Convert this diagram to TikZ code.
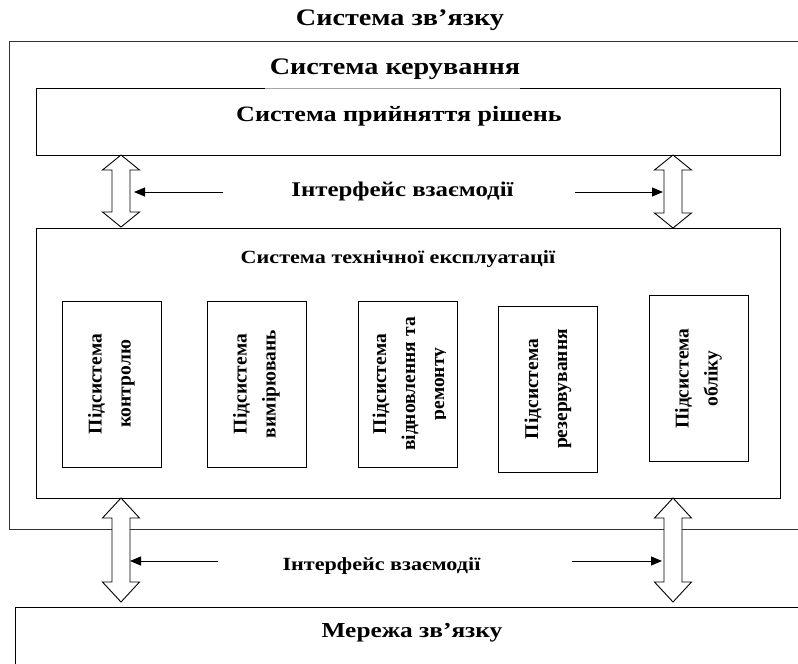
\documentclass[tikz,border=0pt]{standalone}
\usepackage{fontspec}
\setmainfont{Liberation Serif}
\newfontfamily\widefont{Liberation Serif}[FakeStretch=1.19]
\usetikzlibrary{arrows.meta}
\newcommand\DblArr[5]{%
  \draw[dblarrow] (#2,#3) -- (#2+18.5,#3+#5) -- (#2+9,#3+#5) -- (#2+9,#4-#5)
    -- (#2+18.5,#4-#5) -- (#2,#4) -- (#2-18.5,#4-#5) -- (#2-9,#4-#5)
    -- (#2-9,#3+#5) -- (#2-18.5,#3+#5) -- cycle;
  \coordinate (#1-l) at (#2-9,{(#3+#4)/2});
  \coordinate (#1-r) at (#2+9,{(#3+#4)/2});}
\begin{document}
\begin{tikzpicture}[x=1pt,y=-1pt,
  frame/.style={draw=black, line width=0.9pt, inner sep=0pt},
  subbox/.style={frame, minimum width=99pt, minimum height=166pt},
  lbl/.style={font=\widefont\bfseries\fontsize{#1}{#1}\selectfont, inner sep=0pt, anchor=base},
  subtext/.style={font=\bfseries\fontsize{19.5}{29}\selectfont, align=center, rotate=90, inner sep=0pt},
  dblarrow/.style={draw=black, fill=white, line width=0.9pt, line join=miter},
  conn/.style={-{Triangle[length=11pt,width=9pt]}, line width=1pt}]
\useasboundingbox (0,0) rectangle (798,664);
\clip (0,0) rectangle (798,664);
\fill[white] (0,0) rectangle (798,664);

% frames
\node[frame, draw=black!80, minimum width=811pt, minimum height=488pt] (zv) at (414.5,285) {};
\node[frame, minimum width=744pt, minimum height=67pt] (spr) at (408,121.5) {};
\node[frame, minimum width=744pt, minimum height=270pt] (ste) at (408,363) {};
\node[frame, minimum width=805pt, minimum height=73pt] (mz) at (417.5,643.5) {};

% gap in the top edge of the decision box
\draw[white, line width=1.8pt] (265,88) -- (520,88);
\draw[black!35, line width=0.7pt] (265,88) -- (520,88);

% subsystem boxes
\node[subbox] (s1) at (111.5,384) {};
\node[subbox] (s2) at (256.5,384) {};
\node[subbox] (s3) at (407.5,384) {};
\node[subbox] (s4) at (548,389) {};
\node[subbox] (s5) at (698.5,378.5) {};

\node[subtext] (s1t) at (s1.center) {Підсистема\\контролю};
\node[subtext] (s2t) at (s2.center) {Підсистема\\вимірювань};
\begin{scope}
\clip (358,301) rectangle (445,467);
\node[subtext] (s3t) at ([xshift=3pt]s3.center) {Підсистема\\відновлення та\\ремонту};
\end{scope}
\node[subtext] (s4t) at (s4.center) {Підсистема\\резервування};
\node[subtext] (s5t) at (s5.center) {Підсистема\\обліку};

% texts
\node[lbl=23.7] (title) at (400,25.5) {Система зв’язку};
\node[lbl=23.7] (ker) at (395,74) {Система керування};
\node[lbl=21.9] (sprt) at (399,121) {Система прийняття рішень};
\node[lbl=20.9] (if1) at (402.5,196) {Інтерфейс взаємодії};
\node[lbl=18.6] (stet) at (398,263) {Система технічної експлуатації};
\node[lbl=18.6] (if2) at (381.5,570) {Інтерфейс взаємодії};
\node[lbl=21.3] (mzt) at (412,637) {Мережа зв’язку};

% double arrows
\DblArr{ua}{121}{155}{227}{15}
\DblArr{ub}{673}{155}{228}{15}
\DblArr{la}{121}{498}{602}{20}
\DblArr{lb}{673}{498}{602}{20}

% connectors
\coordinate (c1) at (223,192);
\coordinate (c2) at (575,192);
\coordinate (c3) at (218,561);
\coordinate (c4) at (572,561);
\draw[conn] (c1) -- ([xshift=4pt]ua-r |- c1);
\draw[conn] (c2) -- ([xshift=-1pt]ub-l |- c2);
\draw[conn] (c3) -- (la-r |- c3);
\draw[conn] (c4) -- ([xshift=-2pt]lb-l |- c4);
\end{tikzpicture}
\end{document}
